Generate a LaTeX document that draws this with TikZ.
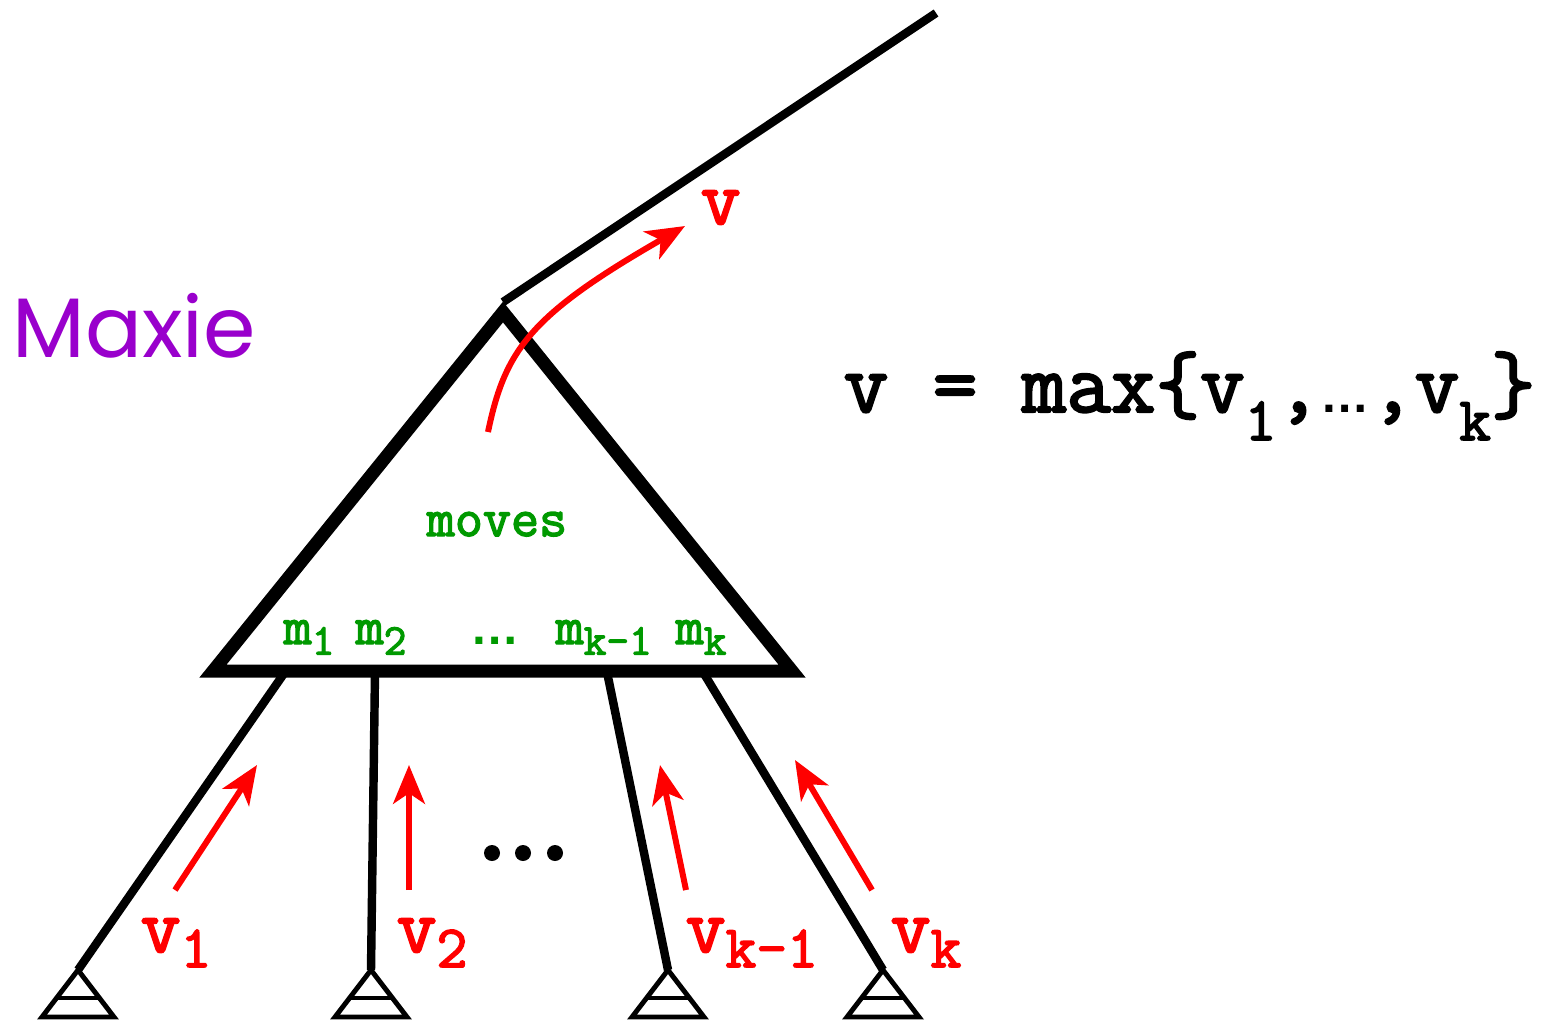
\documentclass[tikz,border=0pt]{standalone}
\usepackage{fontspec}
\setmonofont[AutoFakeBold=2.6]{Latin Modern Mono}
\newfontfamily\maxiefont{Poppins}
\newfontfamily\dotsfont{Liberation Sans}
\usetikzlibrary{arrows.meta}
\definecolor{mxred}{HTML}{FF0000}
\definecolor{mxgreen}{HTML}{009900}
\definecolor{mxpurple}{HTML}{9900CC}
\newcommand{\dsub}[2]{\raisebox{-0.45ex}{\fontsize{#1}{#1}\selectfont #2}}
\newcommand{\ddsub}[2]{\raisebox{-0.75ex}{\fontsize{#1}{#1}\selectfont #2}}
\tikzset{
  tri/.style={line width=3.7pt, miter limit=10, line join=miter},
  edge/.style={line width=2.4pt},
  leafbox/.style={line width=1.4pt},
  valarrow/.style={mxred, line width=1.7pt, -{Stealth[length=11pt,width=9pt,inset=3pt]}},
  vlabel/.style={mxred, font=\ttfamily\bfseries\fontsize{22}{22}\selectfont, inner sep=0pt},
  mlabel/.style={mxgreen, font=\ttfamily\bfseries\fontsize{15.5}{15.5}\selectfont, inner sep=0pt, anchor=base},
}
\begin{document}
\begin{tikzpicture}[x=0.01cm, y=-0.01cm]
\useasboundingbox (0,0) rectangle (1543,1020);
% main triangle
\coordinate (apex) at (503,312);
\coordinate (bl) at (213,671);
\coordinate (br) at (792,671);
\draw[tri] (apex) -- (bl) -- (br) -- cycle;
% parent edge
\coordinate (top) at (936,13);
\coordinate (apexT) at (503,302);
\draw[edge] (apexT) -- (top);
% children
\coordinate (c1) at (285,672);
\coordinate (c2) at (375,672);
\coordinate (c3) at (607,672);
\coordinate (c4) at (703,672);
\foreach \n/\x in {1/78,2/371,3/668,4/883}{
  \coordinate (l\n) at (\x,970);
  \draw[leafbox] (\x,970) -- (\x-36,1017) -- (\x+36,1017) -- cycle;
  \draw[leafbox] (\x-21,998) -- (\x+21,998);
}
\draw[edge] (c1) -- (l1);
\draw[edge] (c2) -- (l2);
\draw[edge] (c3) -- (l3);
\draw[edge] (c4) -- (l4);
% red arrows
\coordinate (a1s) at (175,890); \coordinate (a1e) at (257,765);
\coordinate (a2s) at (409,890); \coordinate (a2e) at (409,765);
\coordinate (a3s) at (686,890); \coordinate (a3e) at (660,765);
\coordinate (a4s) at (872,890); \coordinate (a4e) at (795,760);
\draw[valarrow] (a1s) -- (a1e);
\draw[valarrow] (a2s) -- (a2e);
\draw[valarrow] (a3s) -- (a3e);
\draw[valarrow] (a4s) -- (a4e);
\coordinate (cs) at (488,432);
\coordinate (ce) at (685,226);
\draw[valarrow] (cs) .. controls (505,350) and (530,315) .. (ce);
% labels
\node[vlabel, anchor=base west] (lv1) at (140,952) {v\dsub{17}{1}};
\node[vlabel, anchor=base west] (lv2) at (396,952) {v\dsub{17}{2}};
\node[vlabel, anchor=base west] (lv3) at (685,952) {v\dsub{17}{k-1}};
\node[vlabel, anchor=base west] (lv4) at (890,952) {v\dsub{17}{k}};
\node[vlabel, anchor=base west] (lv) at (700,224) {v};
% black dots
\fill (492,853) circle (8);
\fill (523,853) circle (8);
\fill (555,853) circle (8);
% green labels
\node[mlabel] (moves) at (497,536) {moves};
\node[mlabel, anchor=base west] (m1) at (283,644) {m\dsub{12.5}{1}};
\node[mlabel, anchor=base west] (m2) at (355,644) {m\dsub{12.5}{2}};
\node[mlabel, font=\dotsfont\bfseries\fontsize{14}{14}\selectfont] (mdots) at (495,644) {…};
\node[mlabel, anchor=base west] (mk1) at (555,644) {m\dsub{12.5}{k-1}};
\node[mlabel, anchor=base west] (mk) at (675,644) {m\dsub{12.5}{k}};
% Maxie
\node[mxpurple, font=\maxiefont\fontsize{24}{24}\selectfont, inner sep=0pt, anchor=base west] (maxie) at (12,357) {Maxie};
% formula
\node[font=\ttfamily\bfseries\fontsize{24.6}{24.6}\selectfont, inner sep=0pt, anchor=base west] (formula) at (843,412)
  {v = max\{v\ddsub{17.5}{1},{\dotsfont\bfseries\fontsize{14}{14}\selectfont …},v\ddsub{17.5}{k}\}};
\end{tikzpicture}
\end{document}
